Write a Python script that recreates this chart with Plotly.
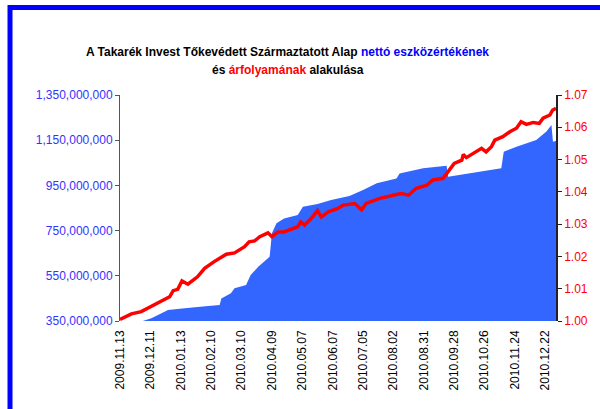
import plotly.graph_objects as go

# x positions are trading-day indices; tick labels every 20 trading days
tick_idx = [0, 20, 40, 60, 80, 100, 120, 140, 160, 180, 200, 220, 240, 260, 280]
tick_labels = ["2009.11.13", "2009.12.11", "2010.01.13", "2010.02.10", "2010.03.10",
               "2010.04.09", "2010.05.07", "2010.06.07", "2010.07.05", "2010.08.02",
               "2010.08.31", "2010.09.28", "2010.10.26", "2010.11.24", "2010.12.22"]

# net asset value (million HUF)
nav_idx = [15, 20.6, 26, 31.6, 42.5, 51, 58, 65.6, 66.7, 73, 75.4, 83, 86, 91, 95, 98.5,
           100, 103, 108, 117, 120.4, 130, 139, 151, 160, 169, 182, 184, 199.5, 215, 216,
           230, 251, 252.6, 261, 274, 280.7, 284, 285, 287]
nav_mil = [350, 362, 380, 399, 406, 410, 416, 421, 450, 473, 495, 509, 553, 590, 612, 634,
           738, 782, 804, 819, 856, 868, 885, 903, 930, 959, 981, 1003, 1026, 1037, 988,
           1003, 1026, 1099, 1121, 1151, 1188, 1217, 1143, 1146]
nav = [v * 1e6 for v in nav_mil]

# unit price
price_idx = [0, 7.5, 14, 20.6, 27, 32.7, 35, 38, 40.8, 44.7, 51, 55.7, 62, 70, 75.4, 82, 85,
             88.6, 92, 97.4, 100, 104, 108, 112.7, 117, 119, 121.5, 126, 130, 132.5, 137,
             143.4, 147, 154.6, 159, 162, 171, 182, 185, 190, 195, 202, 206, 212.7, 215,
             220, 225, 226, 228, 234.6, 238, 241, 244.5, 246.7, 252, 256.6, 261, 264,
             267.5, 272, 276, 278.5, 283, 284.7, 287]
price = [1.0005, 1.0022, 1.0029, 1.0046, 1.0060, 1.0075, 1.0094, 1.0098, 1.0124, 1.0114,
         1.0137, 1.0163, 1.0184, 1.0207, 1.0211, 1.0230, 1.0245, 1.0248, 1.0261, 1.0273,
         1.0261, 1.0276, 1.0276, 1.0284, 1.0292, 1.0307, 1.0297, 1.0318, 1.0342, 1.0322,
         1.0338, 1.0349, 1.0359, 1.0364, 1.0344, 1.0364, 1.0380, 1.0392, 1.0395, 1.0390,
         1.0411, 1.0421, 1.0437, 1.0442, 1.0457, 1.0488, 1.0498, 1.0516, 1.0506, 1.0524,
         1.0535, 1.0524, 1.0540, 1.0560, 1.0571, 1.0586, 1.0597, 1.0617, 1.0609, 1.0615,
         1.0612, 1.0628, 1.0638, 1.0653, 1.0659]

FONT = "Liberation Sans, Arial, sans-serif"

fig = go.Figure()
fig.add_trace(go.Scatter(x=nav_idx, y=nav, mode="lines", fill="tozeroy",
                         line=dict(color="#3366FF", width=0), fillcolor="#3366FF",
                         name="Nettó eszközérték", showlegend=False))
fig.add_trace(go.Scatter(x=price_idx, y=price, mode="lines", yaxis="y2",
                         line=dict(color="#FF0000", width=3.5),
                         name="Árfolyam", showlegend=False))

L, R, T, B = 120, 44, 95, 88
pw, ph = 600 - L - R, 409 - T - B

def px(xp):
    return (xp - L) / pw

def py(yp):
    return (409 - B - yp) / ph

fig.update_layout(
    width=600, height=409,
    margin=dict(l=L, r=R, t=T, b=B, autoexpand=False),
    paper_bgcolor="white", plot_bgcolor="white",
    font=dict(family=FONT, size=12, color="black"),
    title=dict(text="<b>A Takarék Invest Tőkevédett Származtatott Alap "
                    "<span style='color:#0000FF'>nettó eszközértékének</span></b>",
               x=287.5 / 600, xanchor="center", xref="container",
               y=1 - 52 / 409, yanchor="middle", yref="container",
               font=dict(family=FONT, size=12, color="black")),
    xaxis=dict(range=[0, 287], tickmode="array", tickvals=tick_idx, ticktext=tick_labels,
               tickangle=-90, showgrid=False, zeroline=False, showline=False, ticks="",
               ticklabelstandoff=6, tickfont=dict(size=12, color="black")),
    yaxis=dict(range=[350e6, 1350e6], dtick=200e6, tick0=350e6, tickformat=",d",
               showgrid=False, zeroline=False, showline=True, linecolor="#555555",
               linewidth=1, ticks="outside", ticklen=4, tickcolor="#555555",
               tickfont=dict(size=12, color="#3333FF")),
    yaxis2=dict(range=[1.0, 1.07], dtick=0.01, tick0=1.0, tickformat=".2f",
                overlaying="y", side="right", showgrid=False, zeroline=False,
                showline=True, linecolor="#222222", linewidth=1.5, ticks="outside",
                ticklen=4, tickcolor="#222222", tickfont=dict(size=12, color="#FF0000")),
    annotations=[dict(text="<b>és <span style='color:#FF0000'>árfolyamának</span> alakulása</b>",
                      xref="paper", yref="paper", x=px(287.5), y=py(70),
                      xanchor="center", yanchor="middle", showarrow=False,
                      font=dict(family=FONT, size=12, color="black"))],
    shapes=[dict(type="rect", xref="paper", yref="paper",
                 x0=px(10), x1=px(640), y0=py(440), y1=py(7.5),
                 line=dict(color="#0000FF", width=5), fillcolor="rgba(0,0,0,0)",
                 layer="below")],
)

fig.write_html("out.html", config={"displayModeBar": False},
               post_script="document.body.style.margin='0';document.body.style.overflow='hidden';")
